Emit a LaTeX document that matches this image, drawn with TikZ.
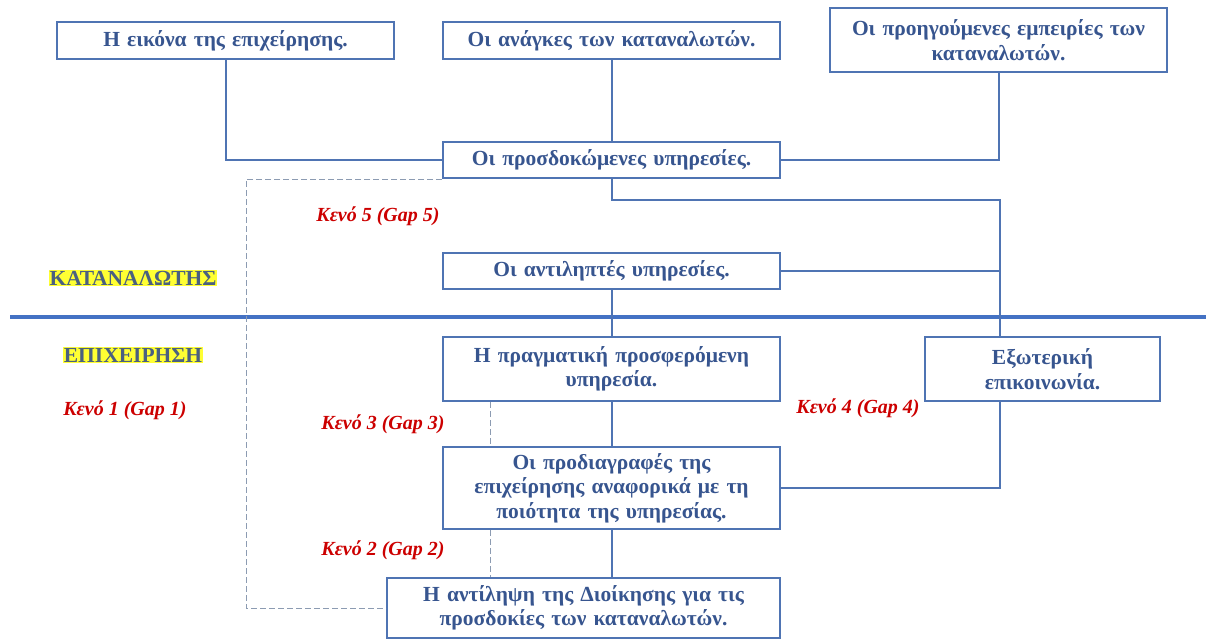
\documentclass[tikz,border=0pt]{standalone}
\usepackage{fontspec}
\setmainfont{Liberation Serif}[BoldFont={Liberation Serif Bold}, ItalicFont={Liberation Serif Italic}, BoldItalicFont={Liberation Serif Bold Italic}]
\usetikzlibrary{positioning}
\definecolor{boxblue}{HTML}{4F74B3}
\definecolor{txtblue}{HTML}{37558F}
\definecolor{gapred}{HTML}{CC0000}
\definecolor{sepblue}{HTML}{4472C4}
\definecolor{hlyellow}{HTML}{FFFF33}
\definecolor{sidegray}{HTML}{4A6080}
\definecolor{dashgray}{HTML}{8C9BB2}

\begin{document}
\begin{tikzpicture}[x=1pt, y=-1pt,
		box/.style={draw=boxblue, line width=2pt, rectangle, align=center, text=txtblue, font=\fontsize{21.5}{24.5}\selectfont\bfseries, minimum width=337pt, text width=334pt, inner sep=1pt},
		link/.style={draw=boxblue, line width=2pt},
		gapline/.style={draw=dashgray, dash pattern=on 6pt off 3pt, line width=1pt},
		gap/.style={text=gapred, font=\fontsize{20}{22}\selectfont\bfseries\itshape},
		side/.style={fill=hlyellow, text=sidegray, font=\fontsize{21.5}{22}\selectfont\bfseries, inner sep=1pt}]
	\useasboundingbox (0,0) rectangle (1206,638);

	\node[box, minimum height=37pt] (image) at (225.5,40.5) {Η εικόνα της επιχείρησης.};
	\node[box, minimum height=37pt] (needs) at (611.5,40.5) {Οι ανάγκες των καταναλωτών.};
	\node[box, minimum height=64pt] (past) at (998.5,40) {Οι προηγούμενες εμπειρίες των\\ καταναλωτών.};
	\node[box, minimum height=36pt] (expected) at (611.5,160) {Οι προσδοκώμενες υπηρεσίες.};
	\node[box, minimum height=36pt] (perceived) at (611.5,271) {Οι αντιληπτές υπηρεσίες.};
	\node[box, minimum height=64pt] (actual) at (611.5,369) {Η πραγματική προσφερόμενη\\ υπηρεσία.};
	\node[box, minimum height=64pt, minimum width=235pt, text width=230pt] (extcomm) at (1042.5,369) {Εξωτερική\\ επικοινωνία.};
	\node[box, minimum height=82pt] (specs) at (611.5,488) {Οι προδιαγραφές της\\ επιχείρησης αναφορικά με τη\\ ποιότητα της υπηρεσίας.};
	\node[box, minimum height=60pt, minimum width=393pt, text width=390pt] (mgmt) at (583.5,608) {Η αντίληψη της Διοίκησης για τις\\ προσδοκίες των καταναλωτών.};

	\coordinate (turn) at (1000,200);
	\coordinate (gapx) at (490,0);
	\coordinate (sepL) at (10,317);
	\coordinate (sepR) at (1206,317);

	% consumer / company divide
	\draw[sepblue, line width=3.5pt] (sepL) -- (sepR);

	\draw[link] (image.south) |- (expected.west);
	\draw[link] (needs.south) -- (expected.north);
	\draw[link] (past.south) |- (expected.east);
	\draw[link] (expected.south) |- (turn) -- (turn |- extcomm.north);
	\draw[link] (perceived.east) -- (perceived.east -| turn);
	\draw[link] (perceived.south) -- (actual.north);
	\draw[link] (actual.south) -- (specs.north);
	\draw[link] (turn |- extcomm.south) |- (specs.east);
	\draw[link] (specs.south) -- (specs.south |- mgmt.north);

	\draw[gapline] (expected.south west) -- ++(-196,0) |- (mgmt.west);
	\draw[gapline] (gapx |- actual.south) -- (gapx |- specs.north);
	\draw[gapline] (gapx |- specs.south) -- (gapx |- mgmt.north);

	\node[gap] (gap5) at (378,216) {Κενό 5 (Gap 5)};
	\node[gap] (gap1) at (125,410) {Κενό 1 (Gap 1)};
	\node[gap] (gap3) at (383,424) {Κενό 3 (Gap 3)};
	\node[gap] (gap4) at (858,408) {Κενό 4 (Gap 4)};
	\node[gap] (gap2) at (383,550) {Κενό 2 (Gap 2)};

	\node[side] (consumer) at (133,278) {ΚΑΤΑΝΑΛΩΤΗΣ};
	\node[side] (company) at (133,355) {ΕΠΙΧΕΙΡΗΣΗ};
\end{tikzpicture}
\end{document}
